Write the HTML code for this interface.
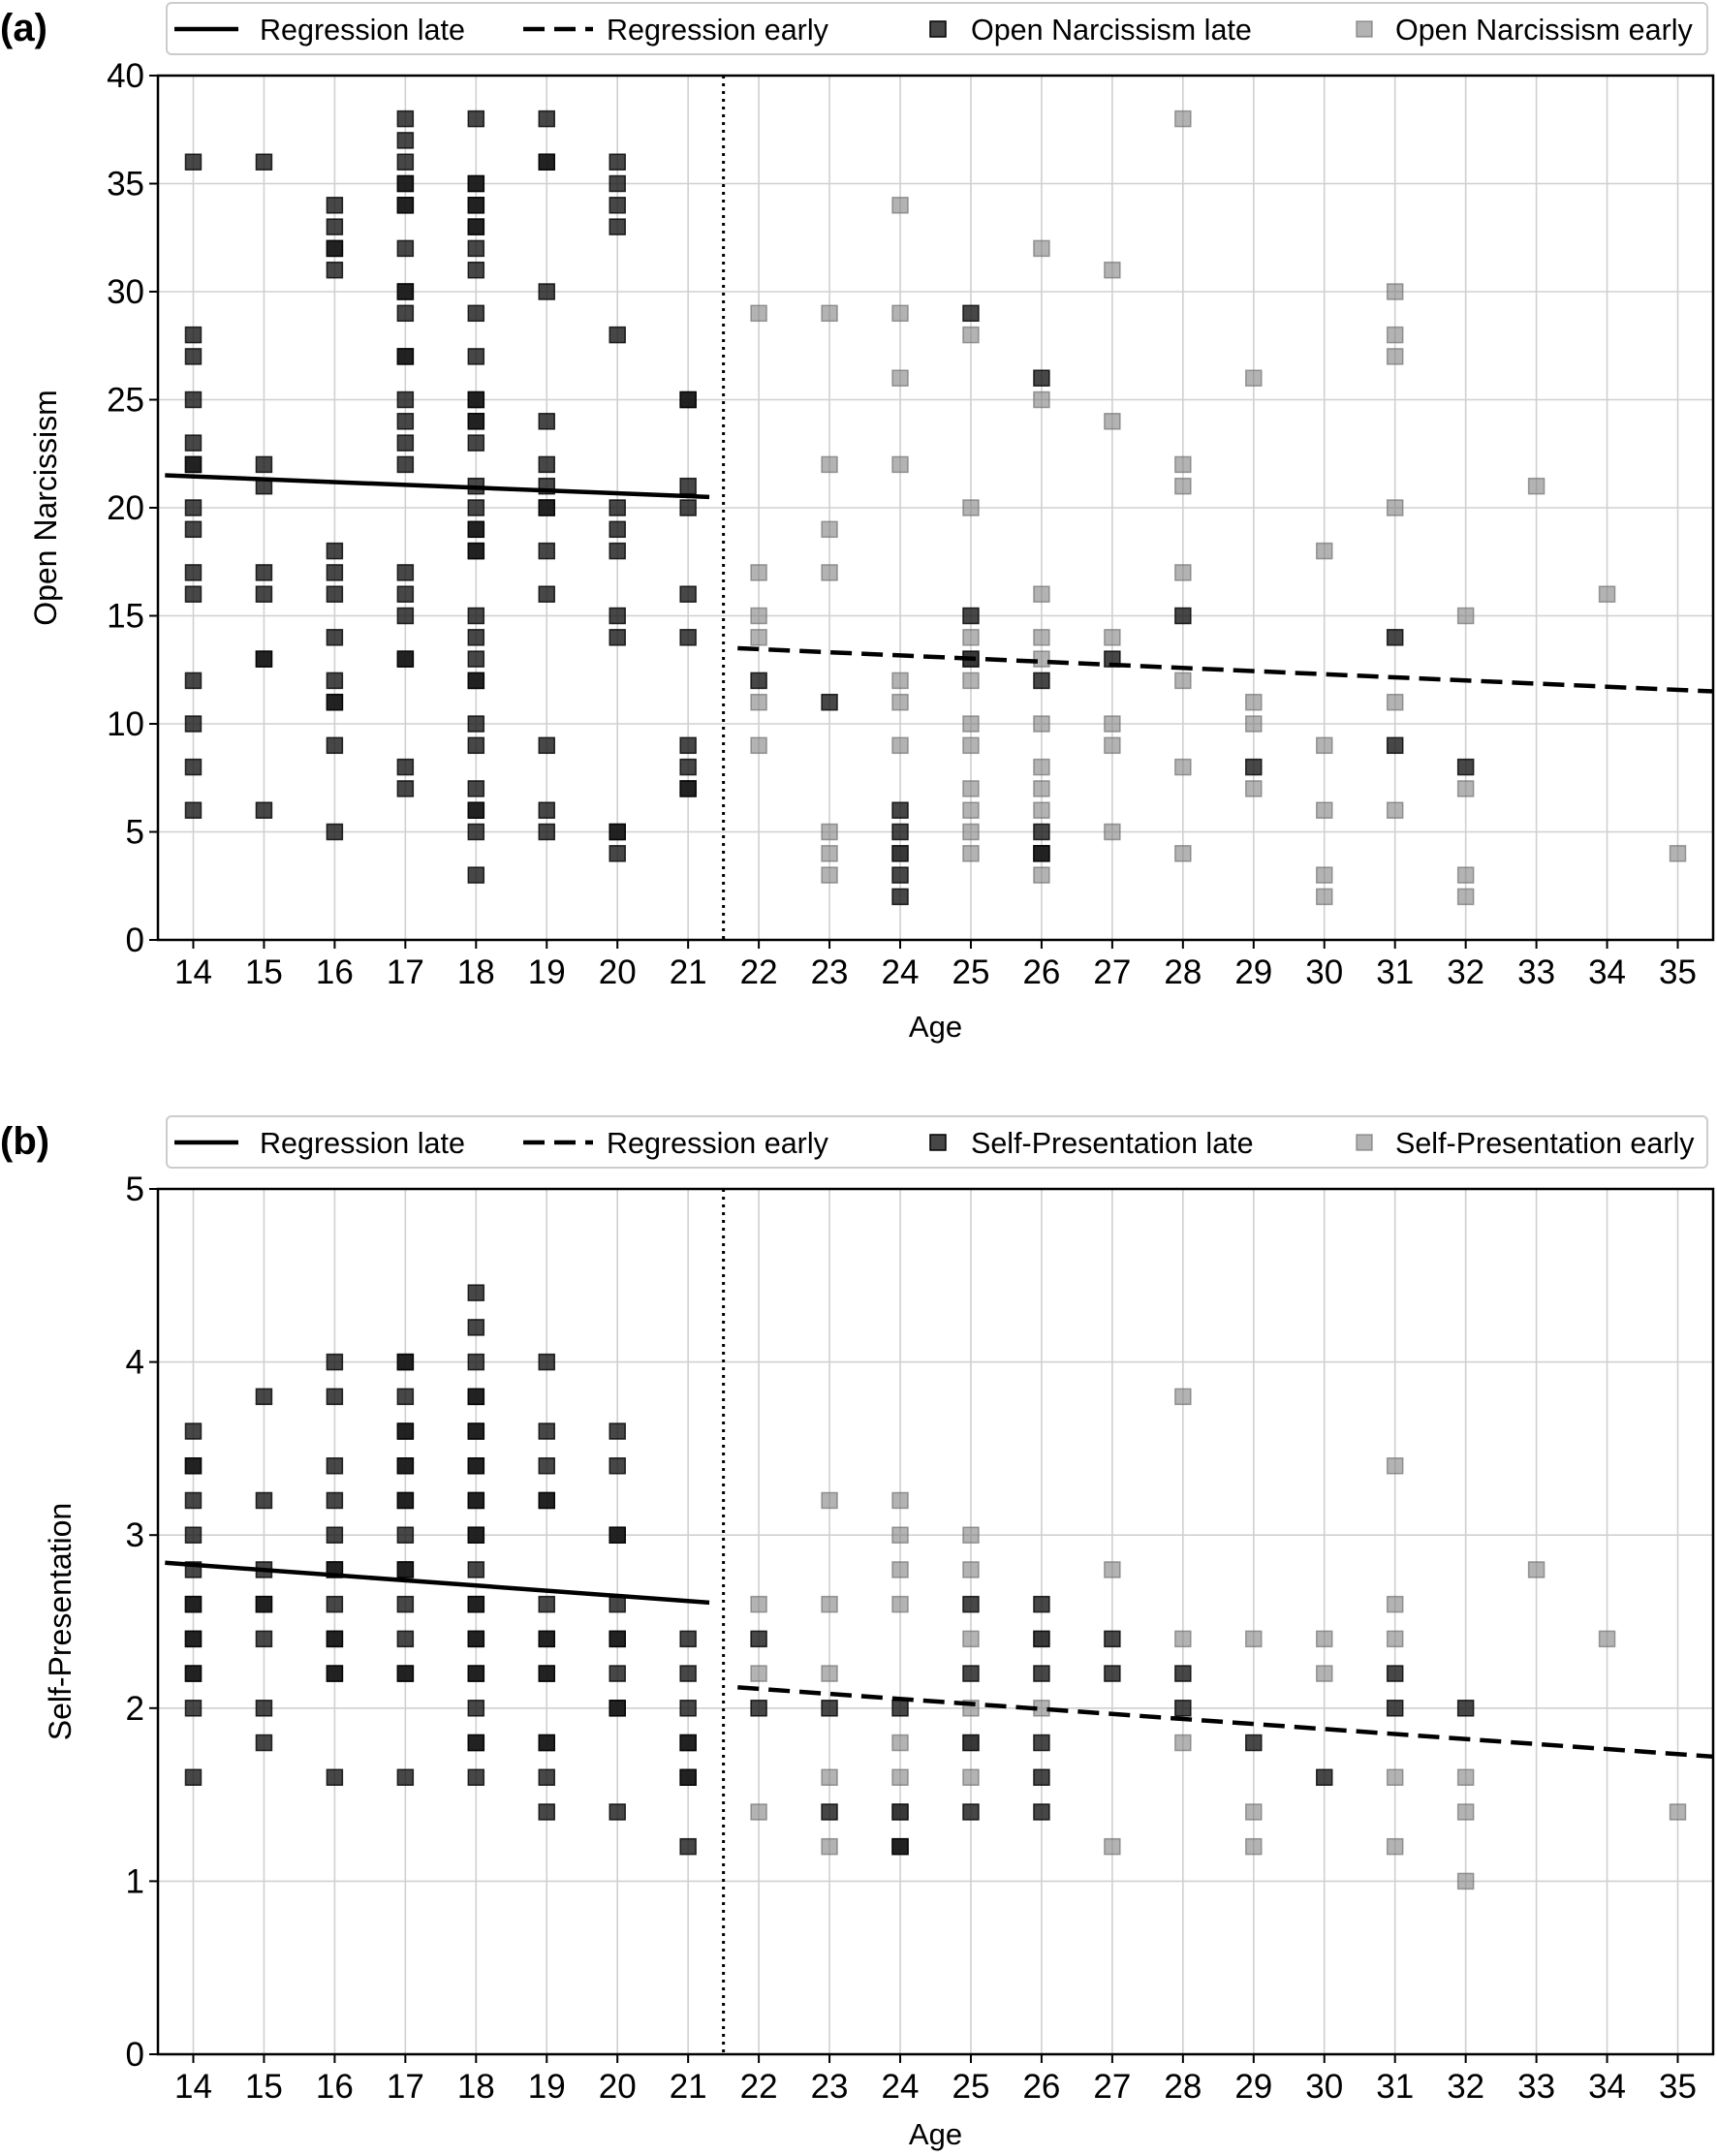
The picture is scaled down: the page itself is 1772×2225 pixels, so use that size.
<!DOCTYPE html>
<html><head><meta charset="utf-8">
<style>
html,body{margin:0;padding:0;background:#fff;}
svg{display:block;font-family:"Liberation Sans",Arial,sans-serif;}
</style></head>
<body>
<svg id="chart" width="1772" height="2225" viewBox="0 0 1772 2225" xmlns="http://www.w3.org/2000/svg">
<rect x="0" y="0" width="1772" height="2225" fill="#fff"/>
<text x="0" y="42" font-size="40" font-weight="bold">(a)</text>
<text x="0" y="1191" font-size="40" font-weight="bold">(b)</text>
<g id="pa"></g>
<g id="pb"></g>
</svg>
<script>
// ---- data ----
const ageTicks = [14,15,16,17,18,19,20,21,22,23,24,25,26,27,28,29,30,31,32,33,34,35];
const narcTicks = [0,5,10,15,20,25,30,35,40];
const spTicks = [0,1,2,3,4,5];
// Open Narcissism late: [age, value]
const narcLate = [
[14,36],[14,28],[14,27],[14,25],[14,23],[14,22],[14,22],[14,20],[14,19],[14,17],[14,16],[14,12],[14,10],[14,8],[14,6],
[15,36],[15,22],[15,21],[15,17],[15,16],[15,13],[15,13],[15,6],
[16,34],[16,33],[16,32],[16,32],[16,31],[16,18],[16,17],[16,16],[16,14],[16,12],[16,11],[16,11],[16,9],[16,5],
[17,38],[17,37],[17,36],[17,35],[17,35],[17,34],[17,34],[17,32],[17,30],[17,30],[17,29],[17,27],[17,27],[17,25],[17,24],[17,23],[17,22],[17,17],[17,16],[17,15],[17,13],[17,13],[17,8],[17,7],
[18,38],[18,35],[18,35],[18,34],[18,34],[18,33],[18,33],[18,32],[18,31],[18,29],[18,27],[18,25],[18,25],[18,24],[18,24],[18,23],[18,21],[18,20],[18,19],[18,19],[18,18],[18,18],[18,15],[18,14],[18,13],[18,12],[18,12],[18,10],[18,9],[18,7],[18,6],[18,6],[18,5],[18,3],
[19,38],[19,36],[19,36],[19,30],[19,24],[19,22],[19,21],[19,20],[19,20],[19,18],[19,16],[19,9],[19,6],[19,5],
[20,36],[20,35],[20,34],[20,33],[20,28],[20,20],[20,19],[20,18],[20,15],[20,14],[20,5],[20,5],[20,4],
[21,25],[21,25],[21,21],[21,20],[21,16],[21,14],[21,9],[21,8],[21,7],[21,7],
[22,12],[23,11],[24,6],[24,5],[24,4],[24,3],[24,2],[25,29],[25,15],[25,13],[26,26],[26,12],[26,5],[26,4],[26,4],[27,13],[28,15],[29,8],[31,14],[31,9],[32,8]
];
const narcEarly = [
[22,29],[22,17],[22,15],[22,14],[22,11],[22,9],
[23,29],[23,22],[23,19],[23,17],[23,5],[23,4],[23,3],
[24,34],[24,29],[24,26],[24,22],[24,12],[24,11],[24,9],[24,4],
[25,28],[25,20],[25,14],[25,13],[25,12],[25,10],[25,9],[25,7],[25,6],[25,5],[25,4],
[26,32],[26,25],[26,16],[26,14],[26,13],[26,10],[26,8],[26,7],[26,6],[26,3],
[27,31],[27,24],[27,14],[27,10],[27,9],[27,5],
[28,38],[28,22],[28,21],[28,17],[28,12],[28,8],[28,4],
[29,26],[29,11],[29,10],[29,7],
[30,18],[30,9],[30,6],[30,3],[30,2],
[31,30],[31,28],[31,27],[31,20],[31,11],[31,6],
[32,15],[32,7],[32,3],[32,2],
[33,21],[34,16],[35,4]
];
// Regression lines: [x0, y0, x1, y1]
const narcRegLate = [13.6,21.5,21.3,20.5];
const narcRegEarly = [21.7,13.5,35.5,11.5];
// Self-Presentation
const spLate = [
[14,3.6],[14,3.4],[14,3.4],[14,3.2],[14,3.0],[14,2.8],[14,2.6],[14,2.6],[14,2.4],[14,2.4],[14,2.2],[14,2.2],[14,2.0],[14,1.6],
[15,3.8],[15,3.2],[15,2.8],[15,2.6],[15,2.6],[15,2.4],[15,2.0],[15,1.8],
[16,4.0],[16,3.8],[16,3.4],[16,3.2],[16,3.0],[16,2.8],[16,2.8],[16,2.6],[16,2.4],[16,2.4],[16,2.2],[16,2.2],[16,1.6],
[17,4.0],[17,4.0],[17,3.8],[17,3.6],[17,3.6],[17,3.4],[17,3.4],[17,3.2],[17,3.2],[17,3.0],[17,2.8],[17,2.8],[17,2.6],[17,2.4],[17,2.2],[17,2.2],[17,1.6],
[18,4.4],[18,4.2],[18,4.0],[18,3.8],[18,3.8],[18,3.6],[18,3.6],[18,3.4],[18,3.4],[18,3.2],[18,3.2],[18,3.0],[18,3.0],[18,2.8],[18,2.6],[18,2.6],[18,2.4],[18,2.4],[18,2.2],[18,2.2],[18,2.0],[18,1.8],[18,1.8],[18,1.6],
[19,4.0],[19,3.6],[19,3.4],[19,3.2],[19,3.2],[19,2.6],[19,2.4],[19,2.4],[19,2.2],[19,2.2],[19,1.8],[19,1.8],[19,1.6],[19,1.4],
[20,3.6],[20,3.4],[20,3.0],[20,3.0],[20,2.6],[20,2.4],[20,2.4],[20,2.2],[20,2.0],[20,2.0],[20,1.4],
[21,2.4],[21,2.2],[21,2.0],[21,1.8],[21,1.8],[21,1.6],[21,1.6],[21,1.2],
[22,2.4],[22,2.0],[23,2.0],[23,1.4],[24,2.0],[24,1.4],[24,1.2],[24,1.2],[25,2.6],[25,2.2],[25,1.8],[25,1.4],
[26,2.6],[26,2.4],[26,2.2],[26,1.8],[26,1.6],[26,1.4],[27,2.4],[27,2.2],[28,2.2],[28,2.0],[29,1.8],[30,1.6],[31,2.2],[31,2.0],[32,2.0]
];
const spEarly = [
[22,2.6],[22,2.2],[22,1.4],
[23,3.2],[23,2.6],[23,2.2],[23,1.6],[23,1.2],
[24,3.2],[24,3.0],[24,2.8],[24,2.6],[24,1.8],[24,1.6],[24,1.4],
[25,3.0],[25,2.8],[25,2.4],[25,2.0],[25,1.8],[25,1.6],
[26,2.4],[26,2.0],
[27,2.8],[27,1.2],
[28,3.8],[28,2.4],[28,1.8],
[29,2.4],[29,1.4],[29,1.2],
[30,2.4],[30,2.2],
[31,3.4],[31,2.6],[31,2.4],[31,1.6],[31,1.2],
[32,1.6],[32,1.4],[32,1.0],
[33,2.8],[34,2.4],[35,1.4]
];
const spRegLate = [13.6,2.84,21.3,2.61];
const spRegEarly = [21.7,2.12,35.5,1.72];

const NS = "http://www.w3.org/2000/svg";
function mk(tag, attrs, parent){
  const e = document.createElementNS(NS, tag);
  for (const k in attrs) e.setAttribute(k, attrs[k]);
  parent.appendChild(e);
  return e;
}
const X0 = 163, X1 = 1768;
function xs(v){ return X0 + (v - 13.5) / 22 * (X1 - X0); }

function panel(g, opts){
  const top = opts.top, bot = opts.bot, ymax = opts.ymax;
  const ys = v => bot - v / ymax * (bot - top);
  ageTicks.forEach(a => {
    const l = mk('line', {x1:xs(a), x2:xs(a), y1:top, y2:bot, stroke:'#d0d0d0', 'stroke-width':1.6}, g);
    
    
  });
  opts.yticks.forEach(t => {
    const l = mk('line', {x1:X0, x2:X1, y1:ys(t), y2:ys(t), stroke:'#d0d0d0', 'stroke-width':1.6}, g);
    
    
  });
  const dv = mk('line', {x1:xs(21.5), x2:xs(21.5), y1:top, y2:bot, stroke:'#000', 'stroke-width':3, 'stroke-dasharray':'3,5'}, g);
  
  
  opts.early.forEach(p => {
    const s = mk('rect', {x:xs(p[0])-8, y:ys(p[1])-8, width:16, height:16, fill:'rgba(128,128,128,0.6)', stroke:'rgba(100,100,100,0.6)', 'stroke-width':1.5}, g);
    
    
  });
  opts.late.forEach(p => {
    const s = mk('rect', {x:xs(p[0])-8, y:ys(p[1])-8, width:16, height:16, fill:'rgba(25,25,25,0.8)', stroke:'rgba(0,0,0,0.8)', 'stroke-width':1.5}, g);
    
    
  });
  const rl = opts.regLate, re = opts.regEarly;
  const l1 = mk('line', {x1:xs(rl[0]), y1:ys(rl[1]), x2:xs(rl[2]), y2:ys(rl[3]), stroke:'#000', 'stroke-width':4.5}, g);
  
  
  const l2 = mk('line', {x1:xs(re[0]), y1:ys(re[1]), x2:xs(re[2]), y2:ys(re[3]), stroke:'#000', 'stroke-width':4.5, 'stroke-dasharray':'22,10'}, g);
  
  
  const fr = mk('rect', {x:X0, y:top, width:X1-X0, height:bot-top, fill:'none', stroke:'#000', 'stroke-width':2.5}, g);
  
  
  ageTicks.forEach(a => {
    const t = mk('line', {x1:xs(a), x2:xs(a), y1:bot, y2:bot+9, stroke:'#000', 'stroke-width':2}, g);
    
    
    const tx = mk('text', {x:xs(a), y:bot+45, 'font-size':35, 'text-anchor':'middle'}, g);
    
    
    tx.textContent = a;
  });
  opts.yticks.forEach(v => {
    const t = mk('line', {x1:X0-9, x2:X0, y1:ys(v), y2:ys(v), stroke:'#000', 'stroke-width':2}, g);
    
    
    const tx = mk('text', {x:X0-14, y:ys(v)+12, 'font-size':35, 'text-anchor':'end'}, g);
    
    
    tx.textContent = v;
  });
  const xt = mk('text', {x:(X0+X1)/2, y:opts.xtitleY, 'font-size':31, 'text-anchor':'middle'}, g);
  
  
  xt.textContent = 'Age';
  const cy = (top+bot)/2;
  const yt = mk('text', {x:opts.ytitleX, y:cy, 'font-size':32, 'text-anchor':'middle', transform:'rotate(-90 '+opts.ytitleX+' '+cy+')'}, g);
  
  
  yt.textContent = opts.ytitle;
  const ly = opts.legTop, lc = ly + 27;
  const lg = mk('g', {}, g);
  
  
  mk('rect', {x:172, y:ly, width:1590, height:53, rx:5, fill:'#fff', stroke:'#ccc', 'stroke-width':2}, lg);
  mk('line', {x1:180, x2:246, y1:lc, y2:lc, stroke:'#000', 'stroke-width':4.5}, lg);
  mk('line', {x1:540, x2:612, y1:lc, y2:lc, stroke:'#000', 'stroke-width':4.5, 'stroke-dasharray':'22,10'}, lg);
  mk('rect', {x:960, y:lc-8, width:16, height:16, fill:'rgba(25,25,25,0.8)', stroke:'#000', 'stroke-width':1.5}, lg);
  mk('rect', {x:1400, y:lc-8, width:16, height:16, fill:'rgba(128,128,128,0.6)', stroke:'rgba(100,100,100,0.6)', 'stroke-width':1.5}, lg);
  const labels = ['Regression late','Regression early',opts.name+' late',opts.name+' early'];
  const lx = [268, 626, 1002, 1440];
  labels.forEach((s,i) => {
    const t = mk('text', {x:lx[i], y:lc+11, 'font-size':30.5}, lg);
    
    
    t.textContent = s;
  });
}
panel(document.getElementById('pa'), {top:78, bot:970, ymax:40, yticks:narcTicks, late:narcLate, early:narcEarly,
  regLate:narcRegLate, regEarly:narcRegEarly, xtitleY:1070, ytitleX:58, ytitle:'Open Narcissism', name:'Open Narcissism', legTop:3});
panel(document.getElementById('pb'), {top:1227, bot:2120, ymax:5, yticks:spTicks, late:spLate, early:spEarly,
  regLate:spRegLate, regEarly:spRegEarly, xtitleY:2213, ytitleX:73, ytitle:'Self-Presentation', name:'Self-Presentation', legTop:1152});
</script>
</body></html>
